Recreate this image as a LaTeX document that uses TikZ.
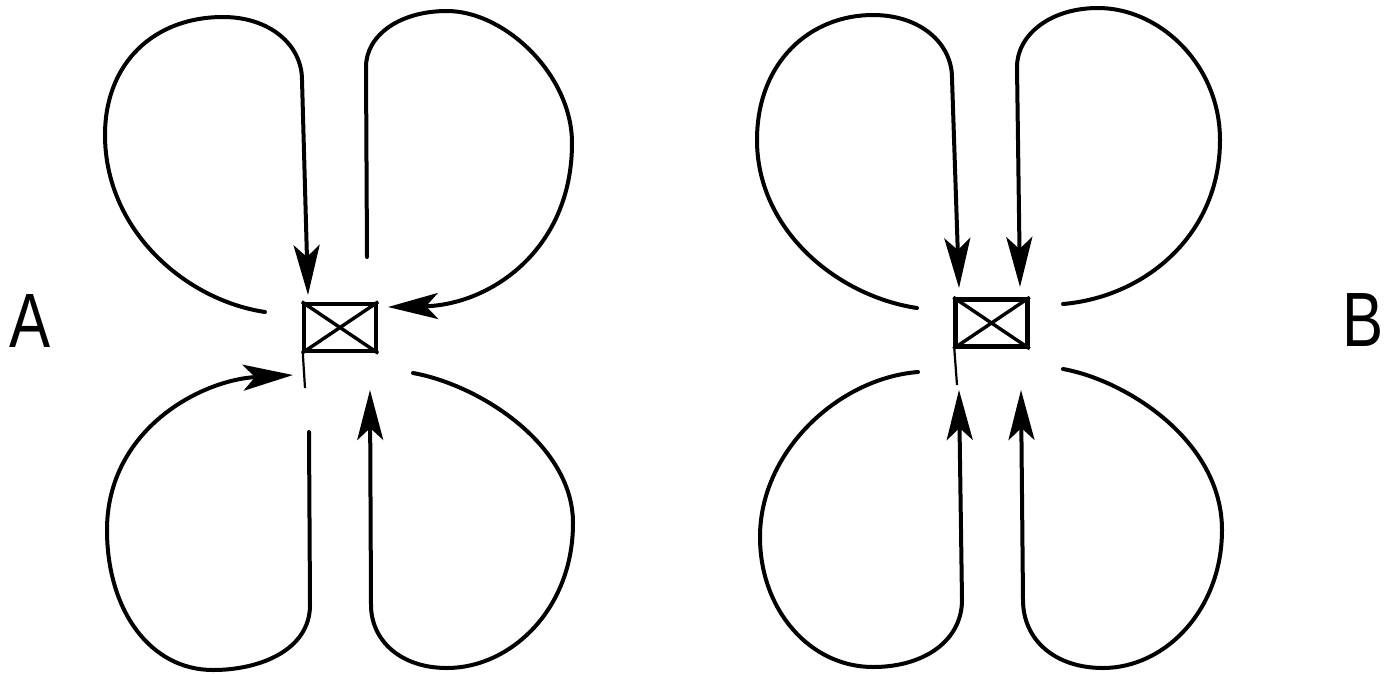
\documentclass[tikz,border=0pt]{standalone}
\usepackage{fontspec}
\setmainfont{Liberation Sans}
\usetikzlibrary{arrows.meta}
\begin{document}
\begin{tikzpicture}[x=1pt,y=-1pt,
  loop/.style={line width=4pt, line cap=round},
  flow/.style={loop, -{Stealth[length=50pt,width=26pt,inset=12pt]}},
  sensor/.style={draw, line width=4.4pt, minimum width=72pt, minimum height=47pt, inner sep=0pt},
  cross/.style={line width=3.4pt},
  pole/.style={line width=2.2pt},
  tag/.style={font=\fontsize{77}{77}\selectfont, xscale=0.8, inner sep=0pt}]
\useasboundingbox (0,0) rectangle (1393,673);

% ---------- configuration A ----------
\node[sensor] (boxA) at (340,327.5) {};
\draw[cross] (boxA.north west) -- (boxA.south east);
\draw[cross] (boxA.south west) -- (boxA.north east);
\coordinate (poleA) at ([xshift=1pt]boxA.south west);
\coordinate (poleAend) at (305,388);
\draw[pole] (poleA) -- (poleAend);

\coordinate (a1s) at (265,312);   \coordinate (a1e) at (308,295);
\coordinate (a2s) at (367,257);   \coordinate (a2e) at (388,307);
\coordinate (a3s) at (309,432);   \coordinate (a3e) at (293,375);
\coordinate (a4s) at (413,373);   \coordinate (a4e) at (370,390);

% upper left lobe
\draw[flow] (a1s) .. controls (185,300) and (105,230) .. (105,135)
  .. controls (105,62) and (155,17) .. (223,17)
  .. controls (270,17) and (302,45) .. (302,80) -- (a1e);
% upper right lobe
\draw[flow] (a2s) -- (366,67) .. controls (366,35) and (400,11) .. (447,11)
  .. controls (505,11) and (572,75) .. (572,143)
  .. controls (572,250) and (490,305) .. (a2e);
% lower left lobe
\draw[flow] (a3s) -- (310,605) .. controls (310,650) and (260,670) .. (213,670)
  .. controls (150,670) and (107,610) .. (107,530)
  .. controls (107,430) and (200,380) .. (a3e);
% lower right lobe
\draw[flow] (a4s) .. controls (480,385) and (573,445) .. (573,523)
  .. controls (573,610) and (510,668) .. (447,668)
  .. controls (400,668) and (371,640) .. (371,605) -- (a4e);

% ---------- configuration B ----------
\node[sensor] (boxB) at (991.5,323) {};
\draw[cross] (boxB.north west) -- (boxB.south east);
\draw[cross] (boxB.south west) -- (boxB.north east);
\coordinate (poleB) at ([xshift=1pt]boxB.south west);
\coordinate (poleBend) at (957,385);
\draw[pole] (poleB) -- (poleBend);

\coordinate (b1s) at (917,308);   \coordinate (b1e) at (959,288);
\coordinate (b2s) at (1063,304);  \coordinate (b2e) at (1020,287);
\coordinate (b3s) at (918,372);   \coordinate (b3e) at (959,390);
\coordinate (b4s) at (1063,369);  \coordinate (b4e) at (1021,390);

% upper left lobe
\draw[flow] (b1s) .. controls (837,296) and (757,230) .. (757,140)
  .. controls (757,62) and (810,15) .. (873,15)
  .. controls (920,15) and (952,43) .. (952,78) -- (b1e);
% upper right lobe
\draw[flow] (b2s) .. controls (1145,297) and (1220,235) .. (1220,140)
  .. controls (1220,65) and (1160,8) .. (1098,8)
  .. controls (1050,8) and (1017,35) .. (1017,67) -- (b2e);
% lower left lobe
\draw[flow] (b3s) .. controls (840,378) and (760,450) .. (760,537)
  .. controls (760,610) and (810,667) .. (873,667)
  .. controls (925,667) and (962,640) .. (962,600) -- (b3e);
% lower right lobe
\draw[flow] (b4s) .. controls (1125,380) and (1222,440) .. (1222,530)
  .. controls (1222,610) and (1165,668) .. (1103,668)
  .. controls (1055,668) and (1023,640) .. (1023,600) -- (b4e);

% ---------- labels ----------
\node[tag] (labA) at (30,321) {A};
\node[tag] (labB) at (1363,320) {B};
\end{tikzpicture}
\end{document}
